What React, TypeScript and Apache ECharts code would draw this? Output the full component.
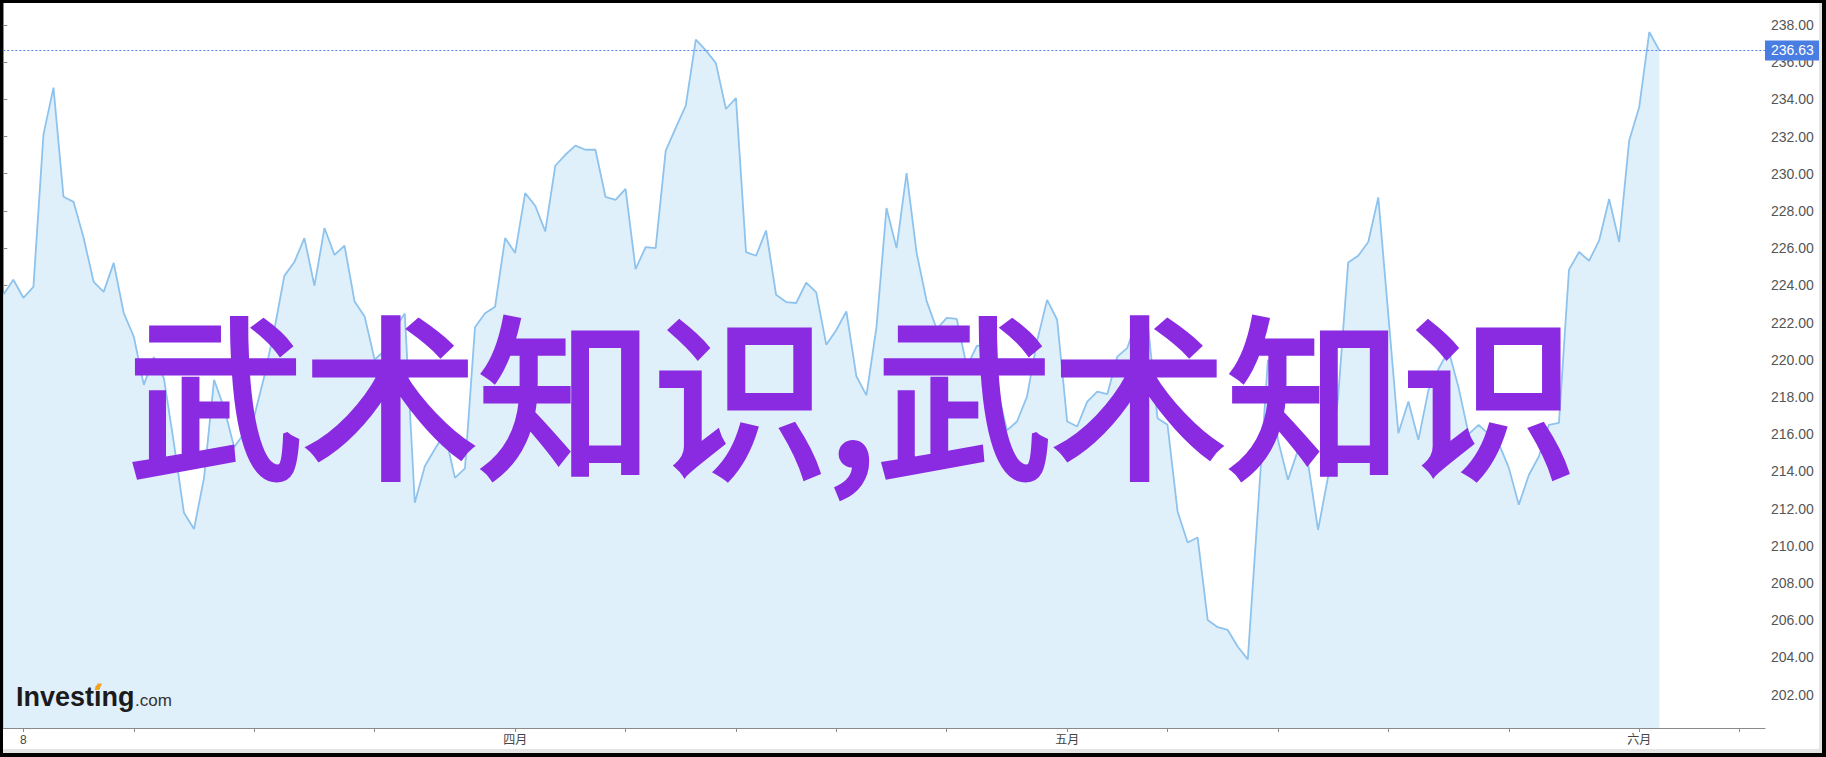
import React, { useEffect, useRef } from "react";
import * as echarts from "echarts";

// ---- data (one value per trading period, index = position on the time axis) ----
const prices: number[] = [
  223.49, 224.3, 223.33, 223.92, 232.1, 234.63, 228.76, 228.49, 226.56, 224.19,
  223.65, 225.21, 222.51, 221.25, 218.65, 220.14, 219.01, 215.5, 211.77, 210.9,
  213.65, 218.92, 217.4, 215.3, 216.05, 216.95, 219.1, 221.6, 224.51, 225.25,
  226.54, 223.98, 227.08, 225.64, 226.13, 223.13, 222.33, 220.0, 220.5, 221.7,
  222.48, 212.31, 214.27, 215.2, 216.06, 213.65, 214.16, 221.75, 222.5, 222.85,
  226.54, 225.74, 228.96, 228.28, 226.9, 230.43, 231.02, 231.51, 231.29, 231.29,
  228.75, 228.6, 229.19, 224.87, 226.06, 226.0, 231.24, 232.46, 233.66, 237.21,
  236.63, 235.95, 233.48, 234.07, 225.79, 225.59, 226.95, 223.49, 223.1, 223.05,
  224.15, 223.62, 220.8, 221.6, 222.6, 219.11, 218.08, 221.75, 228.16, 226.0,
  230.04, 225.74, 223.15, 221.65, 222.25, 222.2, 219.62, 220.75, 220.8, 218.5,
  216.2, 216.68, 218.02, 221.0, 223.22, 222.15, 216.68, 216.41, 217.75, 218.29,
  218.15, 220.17, 220.64, 222.2, 222.1, 216.86, 216.5, 211.84, 210.17, 210.44,
  206.01, 205.62, 205.47, 204.57, 203.89, 211.9, 220.0, 215.69, 213.54, 215.15,
  214.44, 210.85, 213.72, 218.0, 225.23, 225.59, 226.33, 228.73, 222.4, 216.05,
  217.75, 215.69, 218.38, 219.5, 220.5, 218.5, 216.0, 216.5, 216.0, 215.5,
  214.2, 212.2, 213.8, 214.8, 216.5, 216.6, 224.84, 225.79, 225.32, 226.4,
  228.64, 226.33, 231.79, 233.59, 237.62, 236.63,
];

const xTickIndices: number[] = [2, 13, 25, 37, 51, 62, 73, 83, 94, 106, 116, 127, 138, 150, 163, 173];
const xLabelIndices: number[] = [2, 51, 106, 163];
const xLabelTexts: string[] = ["8", "四月", "五月", "六月"];
const yTickValues: number[] = [202, 204, 206, 208, 210, 212, 214, 216, 218, 220, 222, 224, 226, 228, 230, 232, 234, 236, 238];
const lastPrice = 236.63;
const overlayText = "武术知识,武术知识";

const X_MAX = 175.53;
const Y_MIN = 200.2;
const Y_MAX = 239.18;

const LATIN = "Arial, 'Liberation Sans', 'Noto Sans CJK SC', sans-serif";
const PURPLE = "#8a2be2";

export default function App() {
  const ref = useRef<HTMLDivElement>(null);

  useEffect(() => {
    document.body.style.margin = "0";
    const chart = echarts.init(ref.current!, null, { renderer: "svg" });
    const labelMap: Record<number, string> = {};
    xLabelIndices.forEach((k, i) => (labelMap[k] = xLabelTexts[i]));

    chart.setOption({
      animation: false,
      backgroundColor: "#ffffff",
      grid: { left: 3.3, right: 61, top: 3, bottom: 29, containLabel: false },
      xAxis: {
        type: "value",
        min: 0,
        max: X_MAX,
        axisLine: { show: true, lineStyle: { color: "#8a8a8a", width: 1 } },
        axisTick: { show: true, customValues: xTickIndices, length: 4, lineStyle: { color: "#8a8a8a" } },
        axisLabel: {
          show: true,
          customValues: xLabelIndices,
          formatter: (v: number) => labelMap[Math.round(v)] ?? "",
          color: "#444",
          fontSize: 12,
          margin: 6,
          fontFamily: LATIN,
        },
        splitLine: { show: false },
      },
      yAxis: {
        type: "value",
        position: "right",
        min: Y_MIN,
        max: Y_MAX,
        axisLine: { show: true, lineStyle: { color: "#8a8a8a", width: 1 } },
        axisTick: { show: true, customValues: yTickValues, length: 4, lineStyle: { color: "#8a8a8a" } },
        axisLabel: {
          show: true,
          customValues: yTickValues,
          formatter: (v: number) => v.toFixed(2),
          color: "#555",
          fontSize: 14,
          margin: 6,
          fontFamily: LATIN,
        },
        splitLine: { show: false },
      },
      series: [
        {
          type: "line",
          data: prices.map((v, i) => [i, v]),
          symbol: "none",
          lineStyle: { color: "#8ec3ee", width: 1.8 },
          areaStyle: { color: "#e0f0fa", opacity: 1, origin: "start" },
          markLine: {
            silent: true,
            symbol: "none",
            data: [{ yAxis: lastPrice }],
            lineStyle: { type: [2, 2], color: "#5483e8", width: 1 },
            label: {
              show: true,
              position: "end",
              distance: 0,
              formatter: lastPrice.toFixed(2),
              backgroundColor: "#4a7de2",
              color: "#ffffff",
              padding: [3, 6, 3, 6],
              fontSize: 14,
              fontFamily: LATIN,
            },
          },
        },
      ],
      graphic: [
        { type: "text", left: 16, top: 683, z: 50, style: { text: "Investing", font: `bold 27px ${LATIN}`, fill: "#1b1b1b" } },
        { type: "text", left: 135, top: 692, z: 50, style: { text: ".com", font: `17px ${LATIN}`, fill: "#333" } },
        {
          type: "polygon",
          z: 51,
          shape: { points: [[94.5, 690], [97.5, 683.5], [102, 683.5], [99, 690]] },
          style: { fill: "#f6a31d" },
        },
        {
          type: "text",
          x: 128,
          y: 388,
          z: 100,
          style: {
            text: overlayText,
            fill: PURPLE,
            stroke: PURPLE,
            lineWidth: 5,
            lineJoin: "miter",
            font: "normal 175px 'Noto Sans CJK SC', sans-serif",
            textAlign: "left",
            textVerticalAlign: "middle",
          },
        },
        { type: "rect", z: 200, shape: { x: 3, y: 749, width: 1819, height: 4 }, style: { fill: "#e4e4e4" } },
        { type: "rect", z: 200, shape: { x: 1819, y: 3, width: 3, height: 750 }, style: { fill: "#e4e4e4" } },
        { type: "rect", z: 201, shape: { x: 0, y: 0, width: 3, height: 757 }, style: { fill: "#000" } },
        { type: "rect", z: 201, shape: { x: 0, y: 0, width: 1826, height: 3 }, style: { fill: "#000" } },
        { type: "rect", z: 201, shape: { x: 1822, y: 0, width: 4, height: 757 }, style: { fill: "#000" } },
        { type: "rect", z: 201, shape: { x: 0, y: 753, width: 1826, height: 4 }, style: { fill: "#000" } },
      ],
    });
    return () => chart.dispose();
  }, []);

  return (
    <div
      ref={ref}
      style={{ position: "absolute", left: 0, top: 0, width: 1826, height: 757, background: "#fff" }}
    />
  );
}
